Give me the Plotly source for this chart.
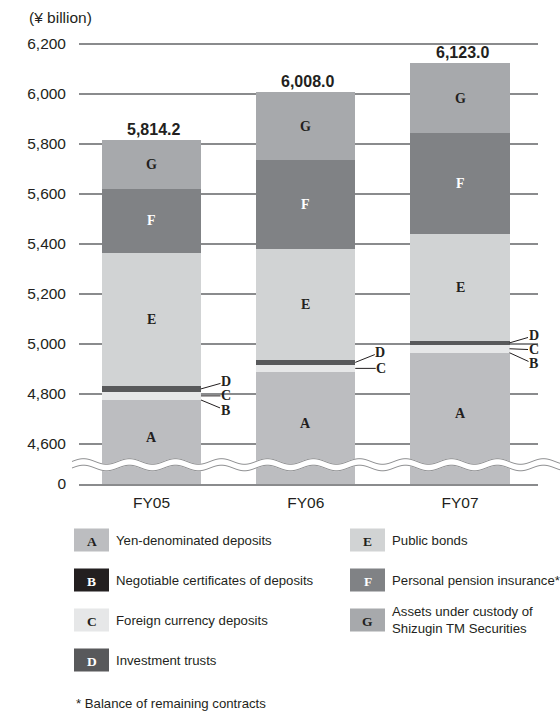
import math
import plotly.graph_objects as go

# Balance of customer assets by product (¥ billion)
years = ["FY05", "FY06", "FY07"]
yen_deposits = [4775.4, 4888.0, 4964.5]      # A
neg_cds = [0.6, 0.0, 0.5]                    # B
fx_deposits = [33.0, 29.0, 32.0]             # C
inv_trusts = [23.0, 19.0, 15.0]              # D
public_bonds = [533.0, 444.0, 428.0]         # E
pension_ins = [255.0, 356.0, 405.0]          # F
tm_custody = [194.2, 272.0, 278.0]           # G
totals = [5814.2, 6008.0, 6123.0]

letters = ["A", "B", "C", "D", "E", "F", "G"]
names = [
    "Yen-denominated deposits",
    "Negotiable certificates of deposits",
    "Foreign currency deposits",
    "Investment trusts",
    "Public bonds",
    "Personal pension insurance*",
    "Assets under custody of<br>Shizugin TM Securities",
]
tick_values = [0, 4600, 4800, 5000, 5200, 5400, 5600, 5800, 6000, 6200]
tick_labels = ["0", "4,600", "4,800", "5,000", "5,200", "5,400", "5,600", "5,800", "6,000", "6,200"]

series = [yen_deposits, neg_cds, fx_deposits, inv_trusts, public_bonds, pension_ins, tm_custody]

# ---- styling ----
W, H = 560, 712
H_PAPER = 704  # drawable paper height used for pixel placement
FILLS = ["#bcbdc0", "#231f20", "#e6e7e8", "#58595b", "#d1d3d4", "#808285", "#a7a9ac"]
LETTER_COLORS = ["#231f20", "#ffffff", "#231f20", "#ffffff", "#231f20", "#ffffff", "#231f20"]
INK = "#231f20"
GRID = "#8a8b8d"
SANS = "Liberation Sans, Arial, sans-serif"
SERIF = "Liberation Serif, Times New Roman, serif"

# broken axis: the zero baseline is drawn at this axis value
AXIS_FLOOR = 4440
BAR_W = 0.642

# plot area in pixels
PX_L, PX_R, PX_T, PX_B = 79, 538, 30, 484
Y_TOP = AXIS_FLOOR + (PX_B - PX_T) * 4  # 4 units per pixel
X_RANGE = [-0.470, 2.5057]


def px(x):
    return x / W


def py(y):
    return 1 - y / H_PAPER


x_pos = list(range(len(years)))
fig = go.Figure()

# stacked bars; the bottom segment starts at the broken-axis floor
bases = [[0.0] * len(years) for _ in series]
tops = [[0.0] * len(years) for _ in series]
for i in range(len(years)):
    run = 0.0
    for k, s in enumerate(series):
        bases[k][i] = AXIS_FLOOR if k == 0 else run
        run = run + s[i]
        tops[k][i] = run

# the hairline B segment goes first so its neighbours sit on top of it
draw_order = [1, 0, 2, 3, 4, 5, 6]
for k in draw_order:
    fig.add_trace(go.Bar(
        x=x_pos,
        y=[tops[k][i] - bases[k][i] for i in range(len(years))],
        base=bases[k],
        width=BAR_W,
        marker=dict(color=FILLS[k], line=dict(width=0)),
        name=letters[k],
        showlegend=False,
        hoverinfo="skip",
    ))

annotations = []

# segment letters inside the bars (A, E, F, G)
for k in [0, 4, 5, 6]:
    for i in range(len(years)):
        if k == 0:
            yc = (tops[k][i] + AXIS_FLOOR + 40) / 2
        else:
            yc = (tops[k][i] + bases[k][i]) / 2
        annotations.append(dict(
            x=x_pos[i], y=yc, xref="x", yref="y", text=f"<b>{letters[k]}</b>",
            showarrow=False, xanchor="center", yanchor="middle",
            font=dict(family=SERIF, size=14, color=LETTER_COLORS[k]),
        ))

# totals above the bars
for i in range(len(years)):
    annotations.append(dict(
        x=x_pos[i], y=totals[i], xref="x", yref="y", text=f"<b>{totals[i]:,.1f}</b>",
        showarrow=False, xanchor="center", yanchor="bottom", xshift=2, yshift=0,
        font=dict(family=SANS, size=16, color=INK),
    ))

# callouts for the thin segments B, C, D
callout_offsets = {
    3: [(25, -7), (25, -10), (24, -7)],
    2: [(25, 0), (26, 0), (24, 1)],
    1: [(24, 10), (24, 10), (24, 11)],
}
for k in [3, 2, 1]:
    for i in range(len(years)):
        if series[k][i] <= 0:
            continue
        if k == 1:
            yp = tops[k][i]
        else:
            yp = (tops[k][i] + bases[k][i]) / 2
        ax, ay = callout_offsets[k][i]
        annotations.append(dict(
            x=x_pos[i] + BAR_W / 2, y=yp, xref="x", yref="y",
            text=f"<b>{letters[k]}</b>", showarrow=True, arrowhead=0,
            arrowwidth=1, arrowcolor=INK, ax=ax, ay=ay, standoff=0, borderpad=0,
            font=dict(family=SERIF, size=14, color=INK),
        ))

# unit label
annotations.append(dict(
    x=px(27), y=py(18), xref="paper", yref="paper", text="(¥ billion)",
    showarrow=False, xanchor="left", yanchor="middle",
    font=dict(family=SANS, size=15.5, color=INK),
))

shapes = []

# wavy break across the lower part of the bars
wave_x = [72 + j * 1.0 for j in range(0, 492)]
upper = [461.5 + 2.8 * math.sin(2 * math.pi * (x - 72) / 46 + math.pi) for x in wave_x]
lower = [u + 6.5 for u in upper]


def path_of(xs, ys):
    return "M " + " L ".join(f"{px(x):.5f},{py(y):.5f}" for x, y in zip(xs, ys))


band = path_of(wave_x + wave_x[::-1], [u - 0.5 for u in upper] + [l + 0.5 for l in lower][::-1]) + " Z"
shapes.append(dict(type="path", path=band, xref="paper", yref="paper",
                   fillcolor="#ffffff", line=dict(width=0), layer="above"))
for ys in (upper, lower):
    shapes.append(dict(type="path", path=path_of(wave_x, ys), xref="paper", yref="paper",
                       line=dict(color="#8f9092", width=1), layer="above"))

# legend drawn as swatches with letters
legend_slots = [
    (74, 540), (74, 580), (74, 620), (74, 660),
    (350, 540), (350, 580), (350, 620),
]
for k, (lx, ly) in enumerate(legend_slots):
    shapes.append(dict(type="rect", xref="paper", yref="paper",
                       x0=px(lx), x1=px(lx + 35), y0=py(ly - 11.5), y1=py(ly + 11.5),
                       fillcolor=FILLS[k], line=dict(width=0)))
    annotations.append(dict(
        x=px(lx + 17.5), y=py(ly + 1), xref="paper", yref="paper", text=f"<b>{letters[k]}</b>",
        showarrow=False, xanchor="center", yanchor="middle",
        font=dict(family=SERIF, size=13.5, color=LETTER_COLORS[k]),
    ))
    annotations.append(dict(
        x=px(lx + 40), y=py(ly), xref="paper", yref="paper", text=names[k],
        showarrow=False, xanchor="left", yanchor="middle", align="left",
        font=dict(family=SANS, size=13.2, color=INK),
    ))

annotations.append(dict(
    x=px(74), y=py(703), xref="paper", yref="paper", text="* Balance of remaining contracts",
    showarrow=False, xanchor="left", yanchor="middle",
    font=dict(family=SANS, size=13.2, color=INK),
))

fig.update_layout(
    width=W, height=H,
    margin=dict(l=0, r=0, t=0, b=0),
    paper_bgcolor="#ffffff", plot_bgcolor="#ffffff",
    barmode="overlay", bargap=0,
    showlegend=False,
    annotations=annotations,
    shapes=shapes,
    xaxis=dict(
        domain=[px(PX_L), px(PX_R)], range=X_RANGE,
        tickvals=x_pos, ticktext=years, showgrid=False, zeroline=False,
        showline=True, linecolor=GRID, linewidth=1.6,
        ticks="", ticklabelstandoff=4,
        tickfont=dict(family=SANS, size=15.5, color=INK),
        fixedrange=True,
    ),
    yaxis=dict(
        domain=[py(PX_B), py(PX_T)], range=[AXIS_FLOOR, Y_TOP],
        tickvals=[AXIS_FLOOR if v == 0 else v for v in tick_values], ticktext=tick_labels,
        showgrid=True, gridcolor=GRID, gridwidth=1.6, zeroline=False,
        showline=False, ticks="", ticklabelstandoff=12,
        tickfont=dict(family=SANS, size=15.5, color=INK),
        fixedrange=True,
    ),
)

fig.write_html("out.html")
